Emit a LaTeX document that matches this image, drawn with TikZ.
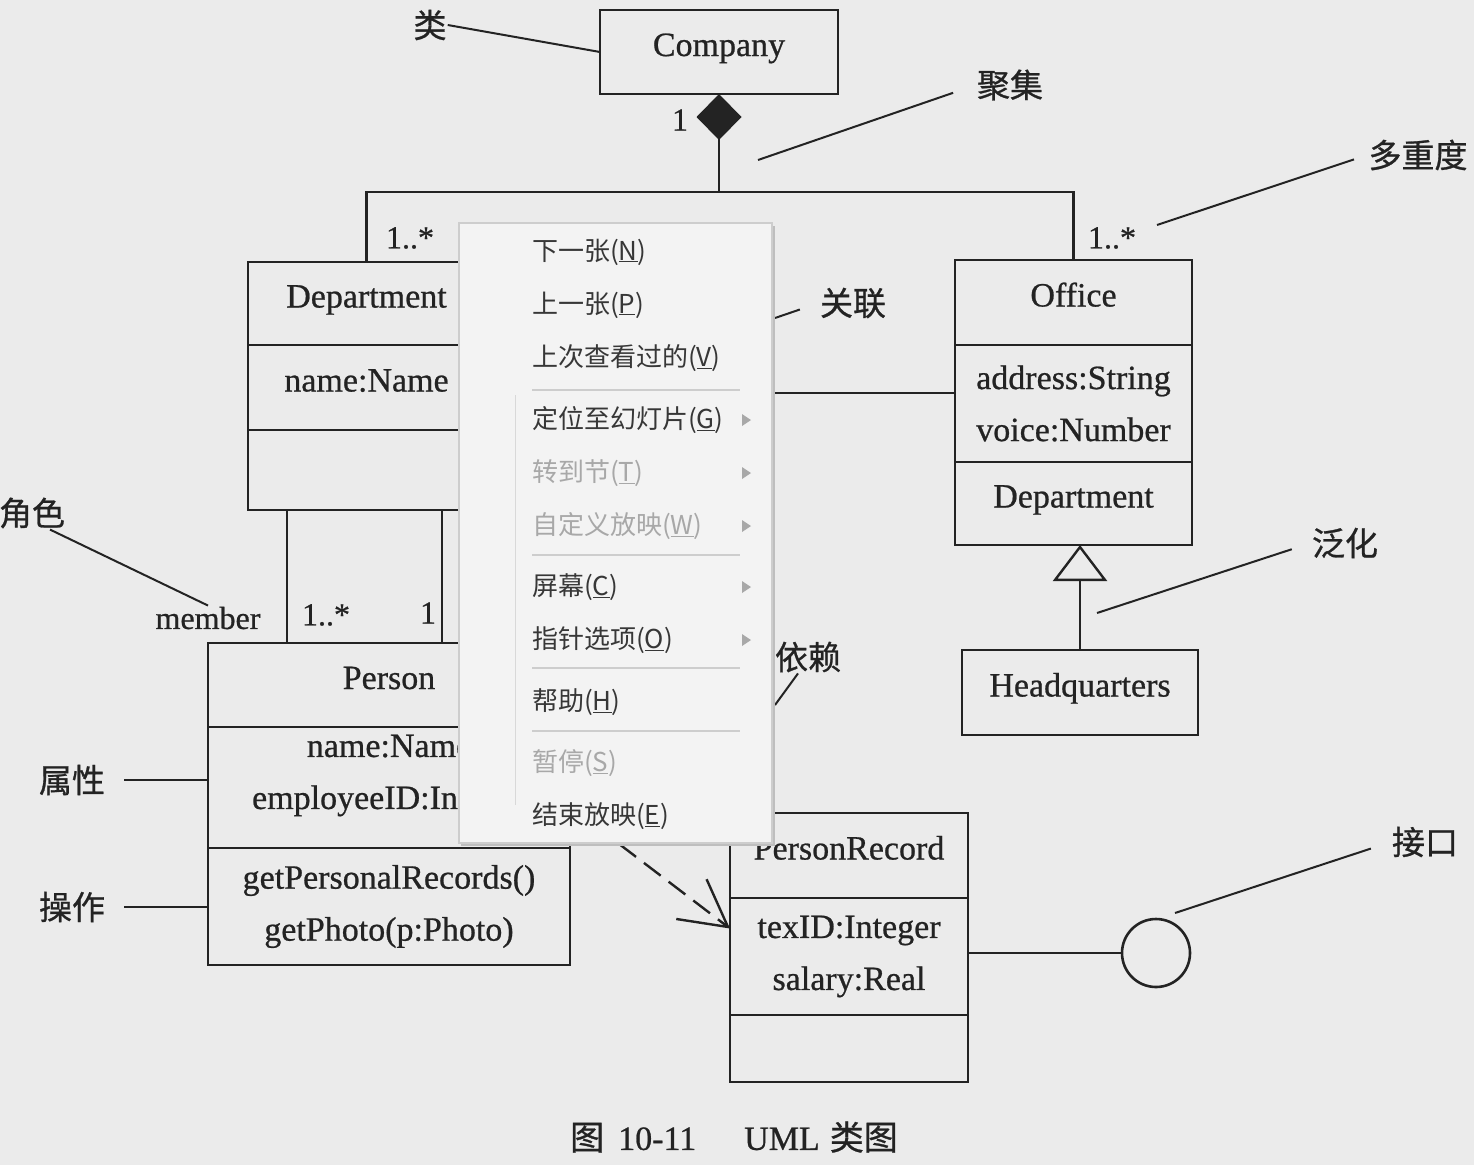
\documentclass[tikz,border=0pt]{standalone}
\usepackage{fontspec}
\setmainfont{Liberation Serif}[FakeBold=0.6]
\newfontfamily\umlfont{Liberation Serif}[FakeBold=0.7]
\newfontfamily\cjk{Noto Sans CJK SC}
\newfontfamily\cjknote{Noto Sans CJK SC}[FakeBold=0.8]
\usetikzlibrary{positioning,arrows.meta}

\definecolor{bgcol}{RGB}{235,235,235}
\definecolor{menubg}{RGB}{243,243,243}
\definecolor{menuline}{RGB}{205,205,205}
\definecolor{menushade}{RGB}{190,190,190}
\definecolor{ink}{RGB}{35,35,35}
\definecolor{menuink}{RGB}{55,55,55}
\definecolor{menugray}{RGB}{168,168,168}

\tikzset{
  umlbox/.style={draw=ink, line width=2.6pt, fill=bgcol, inner sep=0pt, outer sep=0pt,
    font=\umlfont\fontsize{34}{52}\selectfont, align=center, text=ink},
  oneline/.style={text height=20pt, text depth=12pt},
  umltext/.style={font=\umlfont\fontsize{34}{52}\selectfont, align=center, text=ink, inner sep=0pt},
  mult/.style={font=\umlfont\fontsize{32}{36}\selectfont, text=ink, inner sep=1pt},
  note/.style={font=\cjknote\fontsize{33}{40}\selectfont, text=ink, inner sep=1pt},
  pointer/.style={draw=ink, line width=2pt},
  link/.style={draw=ink, line width=2.4pt},
  menuitem/.style={anchor=west, inner sep=0pt, font=\cjk\fontsize{26}{30}\selectfont, text=menuink},
  menuoff/.style={menuitem, text=menugray},
  menusep/.style={draw=menuline, line width=1.5pt},
  submenu/.style={fill=menugray},
}

\begin{document}
\begin{tikzpicture}[x=1pt,y=-1pt]
  \fill[bgcol] (0,0) rectangle (1474,1165);
  \useasboundingbox (0,0) rectangle (1474,1165);

  % classes
  \node[umlbox, oneline, minimum width=238pt, minimum height=84pt] (company) at (719,52) {Company};

  \node[umlbox, oneline, minimum width=237pt, minimum height=83pt] (dept) at (366.5,303.5) {Department};
  \node[umlbox, oneline, minimum width=237pt, minimum height=85pt, below=0pt of dept] (deptattr) {name:Name};
  \node[umlbox, minimum width=237pt, minimum height=80pt, below=0pt of deptattr] (deptops) {};

  \node[umlbox, oneline, minimum width=237pt, minimum height=85pt] (office) at (1073.5,302.5) {Office};
  \node[umlbox, minimum width=237pt, minimum height=117pt, below=0pt of office] (officeattr) {address:String\\voice:Number};
  \node[umlbox, oneline, minimum width=237pt, minimum height=83pt, below=0pt of officeattr] (officeops) {Department};

  \node[umlbox, oneline, minimum width=236pt, minimum height=85pt] (hq) at (1080,692.5) {Headquarters};

  \node[umlbox, oneline, minimum width=362pt, minimum height=84pt] (person) at (389,685) {Person};
  \node[umlbox, minimum width=362pt, minimum height=121pt, below=0pt of person] (personattr) {};
  \node[umltext] (personattrtext) at ([yshift=12pt]personattr.center) {name:Name\\employeeID:Integer};
  \node[umlbox, minimum width=362pt, minimum height=117pt, below=0pt of personattr] (personops) {getPersonalRecords()\\getPhoto(p:Photo)};

  \node[umlbox, oneline, minimum width=238pt, minimum height=85pt] (rec) at (849,855.5) {PersonRecord};
  \node[umlbox, minimum width=238pt, minimum height=117pt, below=0pt of rec] (recattr) {texID:Integer\\salary:Real};
  \node[umlbox, minimum width=238pt, minimum height=67pt, below=0pt of recattr] (recops) {};

  \node[draw=ink, line width=2.6pt, circle, minimum size=68pt, inner sep=0pt] (iface) at (1156,953) {};

  % connectors
  \coordinate (agg) at (719,192);
  \coordinate (asc) at (0,393);
  \coordinate (roleleft) at (287,0);
  \coordinate (roleright) at (442,0);
  \draw[link, -{Diamond[length=46pt, width=45pt]}] (agg) -- (company.south);
  \draw[link] (dept.north) |- (agg) -| (office.north);
  \draw[link] (deptattr.east |- asc) -- (officeattr.west |- asc);
  \draw[link] (deptops.south -| roleleft) -- (person.north -| roleleft);
  \draw[link] (deptops.south -| roleright) -- (person.north -| roleright);
  \draw[link, -{Triangle[open, length=36pt, width=54pt, fill=bgcol]}] (hq.north) -- (hq.north |- officeops.south);
  \draw[link, dash pattern=on 21pt off 10pt, -{Straight Barb[length=46pt, width=50pt]}]
    ([yshift=-19pt]personattr.east) -- ([yshift=28pt]recattr.west);
  \draw[link] (recattr.east |- iface) -- (iface);

  % multiplicities and role
  \node[mult] (m1) at (680,120) {1};
  \node[mult] (m2) at (410,238) {1..*};
  \node[mult] (m3) at (1112,238) {1..*};
  \node[mult] (member) at (208,618) {member};
  \node[mult] (m4) at (326,615) {1..*};
  \node[mult] (m5) at (428,613) {1};

  % notes
  \node[note] (noteclass) at (430,25) {类};
  \node[note] (noteagg) at (1010,85) {聚集};
  \node[note] (notemult) at (1418,155) {多重度};
  \node[note] (noteasc) at (853,303) {关联};
  \node[note] (notegen) at (1345,543) {泛化};
  \node[note] (notedep) at (808,657) {依赖};
  \node[note] (noteiface) at (1425,842) {接口};
  \node[note] (noterole) at (32,513) {角色};
  \node[note] (noteattr) at (72,780) {属性};
  \node[note] (noteops) at (72,907) {操作};

  \coordinate (aggend) at (758,160);
  \coordinate (multend) at (1157,225);
  \coordinate (ascend) at (775,318);
  \coordinate (genend) at (1097,613);
  \coordinate (depend) at (775,705);
  \coordinate (ifaceend) at (1175,913);
  \draw[pointer] (noteclass.east) -- (company.west);
  \draw[pointer, shorten <=24pt] (noteagg.west) -- (aggend);
  \draw[pointer, shorten <=14pt] (notemult.west) -- (multend);
  \draw[pointer, shorten <=20pt] (noteasc.west) -- (ascend);
  \draw[pointer, shorten <=20pt] (notegen.west) -- (genend);
  \draw[pointer] ([xshift=-10pt]notedep.south) -- (depend);
  \draw[pointer, shorten <=21pt] (noteiface.west) -- (ifaceend);
  \draw[pointer] ([xshift=18pt]noterole.south) -- (member.north);
  \draw[pointer, shorten <=18pt] (noteattr.east) -- (noteattr.east -| personattr.west);
  \draw[pointer, shorten <=18pt] (noteops.east) -- (noteops.east -| personops.west);

  % context menu on top
  \fill[menushade] (461,226) rectangle (775,846);
  \node[fill=menubg, draw=menuline, line width=1.5pt, minimum width=313pt, minimum height=620pt,
    anchor=north west, inner sep=0pt] (menu) at (458,222) {};
  \draw[menuline!70!menubg, line width=1pt] (515,395) -- (515,805);
  \node[menuitem] (inext) at (532,252) {下一张(\underline{N})};
  \node[menuitem] (iprev) at (532,305) {上一张(\underline{P})};
  \node[menuitem] (ilast) at (532,358) {上次查看过的(\underline{V})};
  \node[menuitem] (igoto) at (532,420) {定位至幻灯片(\underline{G})};
  \node[menuoff] (isect) at (532,473) {转到节(\underline{T})};
  \node[menuoff] (icustom) at (532,526) {自定义放映(\underline{W})};
  \node[menuitem] (iscreen) at (532,587) {屏幕(\underline{C})};
  \node[menuitem] (ipointer) at (532,640) {指针选项(\underline{O})};
  \node[menuitem] (ihelp) at (532,702) {帮助(\underline{H})};
  \node[menuoff] (ipause) at (532,763) {暂停(\underline{S})};
  \node[menuitem] (iend) at (532,816) {结束放映(\underline{E})};
  \draw[menusep] (532,390) -- (740,390);
  \draw[menusep] (532,555) -- (740,555);
  \draw[menusep] (532,668) -- (740,668);
  \draw[menusep] (532,731) -- (740,731);
  \foreach \y in {420,473,526,587,640}
    \fill[submenu] (742,\y-6) -- (751,\y) -- (742,\y+6) -- cycle;

  % caption
  \node[font=\umlfont\fontsize{34}{40}\selectfont, text=ink, inner sep=0pt] (caption) at (734,1137)
    {{\cjknote 图}\hspace{14pt}10-11\hspace{48pt}UML\hspace{10pt}{\cjknote 类图}};
\end{tikzpicture}
\end{document}
